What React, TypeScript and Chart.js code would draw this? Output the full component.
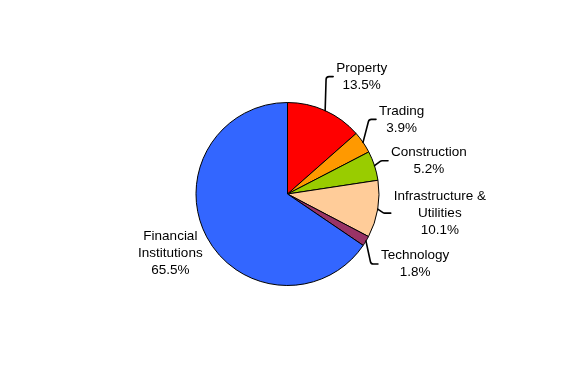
import React, { useEffect, useRef } from "react";
import { Chart, registerables } from "chart.js";

Chart.register(...registerables);

// ---- data ----
const categories: string[][] = [
  ["Property"],
  ["Trading"],
  ["Construction"],
  ["Infrastructure &", "Utilities"],
  ["Technology"],
  ["Financial", "Institutions"],
];
const shares: number[] = [13.5, 3.9, 5.2, 10.1, 1.8, 65.5];
const colors: string[] = ["#FF0000", "#FF9900", "#99CC00", "#FFCC99", "#993366", "#3366FF"];

// ---- label styling: offset from slice edge midpoint to the leader end / label anchor ----
const labelStyle = [
  { dx: 8, dy: -34, leader: true },
  { dx: 13, dy: -23, leader: true },
  { dx: 13.5, dy: -5, leader: true },
  { dx: 13, dy: 4, leader: true },
  { dx: 12, dy: 23, leader: true },
  { dx: -4, dy: 16, leader: false },
];

const FONT = "13.5px 'Liberation Sans', Arial, sans-serif";
const LINE_H = 17;

const labelPlugin = {
  id: "pieLabels",
  afterDatasetsDraw(chart: any) {
    const ctx = chart.ctx as CanvasRenderingContext2D;
    const meta = chart.getDatasetMeta(0);
    ctx.save();
    ctx.font = FONT;
    ctx.fillStyle = "#000";
    ctx.textBaseline = "middle";
    ctx.textAlign = "center";
    meta.data.forEach((arc: any, i: number) => {
      const p = arc.getProps(["x", "y", "startAngle", "endAngle", "outerRadius"], true);
      const mid = (p.startAngle + p.endAngle) / 2;
      const ex = p.x + Math.cos(mid) * p.outerRadius;
      const ey = p.y + Math.sin(mid) * p.outerRadius;
      const st = labelStyle[i];
      const ax = ex + st.dx;
      const ay = ey + st.dy;
      const lines = [...categories[i], `${shares[i].toFixed(1)}%`];
      const maxW = Math.max(...lines.map((l) => ctx.measureText(l).width));
      let cx: number;
      if (st.leader) {
        const h = 7;
        ctx.beginPath();
        ctx.strokeStyle = "#000";
        ctx.lineWidth = 1.6;
        ctx.lineJoin = "round";
        ctx.lineCap = "round";
        ctx.moveTo(ex, ey);
        ctx.arcTo(ax - h, ay, ax, ay, 3);
        ctx.lineTo(ax, ay);
        ctx.stroke();
        cx = ax + 3 + maxW / 2;
      } else {
        cx = ax - maxW / 2;
      }
      const top = ay - ((lines.length - 1) * LINE_H) / 2;
      lines.forEach((l, k) => ctx.fillText(l, cx, top + k * LINE_H));
    });
    ctx.restore();
  },
};

export default function App() {
  const ref = useRef<HTMLCanvasElement | null>(null);
  useEffect(() => {
    if (!ref.current) return;
    const chart = new Chart(ref.current, {
      type: "pie",
      data: {
        labels: categories.map((c) => c.join(" ")),
        datasets: [
          {
            data: shares,
            backgroundColor: colors,
            borderColor: "#000",
            borderWidth: 1,
          },
        ],
      },
      options: {
        responsive: false,
        animation: false,
        layout: { padding: { left: 195, right: 196, top: 102, bottom: 103 } },
        plugins: {
          legend: { display: false },
          tooltip: { enabled: false },
        },
      },
      plugins: [labelPlugin],
    });
    return () => chart.destroy();
  }, []);
  return (
    <div style={{ position: "absolute", left: 0, top: 0, width: 576, height: 389, background: "#fff" }}>
      <canvas ref={ref} width={576} height={389} />
    </div>
  );
}
